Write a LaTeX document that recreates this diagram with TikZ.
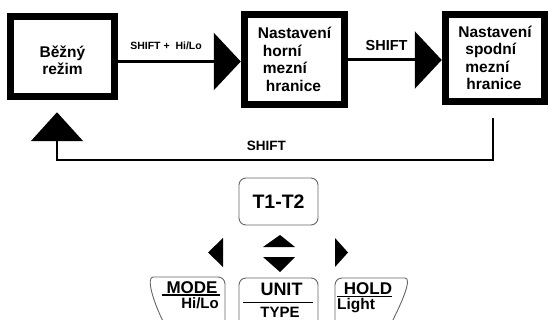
\documentclass[tikz,border=0pt]{standalone}
\usepackage{fontspec}
\setmainfont{Liberation Sans}
\usetikzlibrary{arrows.meta, positioning}
\tikzstyle{mode box}=[draw, line width=7.5pt, inner sep=0pt, font=\bfseries\fontsize{15.5}{17.5}\selectfont]
\tikzstyle{big arrow}=[line width=3pt, -{Triangle[length=27pt,width=57pt]}]
\tikzstyle{back arrow}=[line width=2.5pt, -{Triangle[length=29pt,width=52pt]}]
\tikzstyle{edge label}=[inner sep=0pt, font=\bfseries]
\tikzstyle{key}=[draw=black!60, line width=0.9pt, rounded corners=7pt]
\tikzstyle{key label}=[inner sep=0pt, font=\bfseries]

\begin{document}
\begin{tikzpicture}[x=1pt, y=-1pt]
		\useasboundingbox (0,0) rectangle (548,320);
		% modes
		\node[mode box, minimum width=104pt, minimum height=80pt] (normal) at (62.5,56.5) {\raisebox{-6pt}[\height][\depth]{\begin{tabular}{@{}c@{}}Běžný\\režim\end{tabular}}};
		\node[mode box, minimum width=100pt, minimum height=90pt, align=left] (upper) at (294.5,59.5) {Nastavení\\\hspace{5pt}horní\\\hspace{5pt}mezní\\\hspace{8pt}hranice};
		\node[mode box, minimum width=99pt, minimum height=87pt, align=left] (lower) at (495,58) {Nastavení\\\hspace{7pt}spodní\\\hspace{7pt}mezní\\\hspace{8pt}hranice};
		\coordinate (back) at (57,160);
		\draw[big arrow] ([yshift=-2pt]normal.east |- upper) -- node[edge label, pos=0.39, above=10pt, font=\bfseries\fontsize{10.5}{12}\selectfont] {SHIFT +\ \ Hi/Lo} ([yshift=-2pt]upper.west);
		\draw[big arrow] ([yshift=-2pt]upper.east |- lower) -- node[edge label, pos=0.41, above=8pt, font=\bfseries\fontsize{14.5}{16}\selectfont] {SHIFT} ([yshift=-2pt]lower.west);
		\draw[back arrow, shorten <=13pt, shorten >=12pt] ([xshift=-2pt]lower.south) |- node[edge label, pos=0.76, above=8pt, font=\bfseries\fontsize{13.5}{15}\selectfont] {SHIFT} (back) -- (back |- normal.south);
		% keypad
		\node[key, minimum width=79pt, minimum height=47pt, font=\bfseries\fontsize{19.5}{21}\selectfont] (t12) at (278.5,201.5) {T1-T2};
		\fill (263,247) -- (280,235) -- (295,247) -- cycle;
		\fill (263,257) -- (295,257) -- (280,272) -- cycle;
		\fill (223,238) -- (208,252.5) -- (223,267) -- cycle;
		\fill (335,238) -- (348,252.5) -- (335,267) -- cycle;
		\draw[key] (239,335) -- (239,278) -- (318,278) -- (318,335);
		\draw[key] (225,335) -- (225,277) -- (160,277) .. controls (147,277) and (150,298) .. (170,335);
		\draw[key] (335,335) -- (335,278) -- (398,278) .. controls (412,278) and (404,300) .. (385,335);
		\node[key label, font=\bfseries\fontsize{18}{20}\selectfont] (unit) at (281.5,289) {UNIT};
		\node[key label, font=\bfseries\fontsize{15}{17}\selectfont] (type) at (280,312) {TYPE};
		\draw[line width=1pt] (243,302) -- (313,302);
		\node[key label, font=\bfseries\fontsize{17}{19}\selectfont] (mode) at (192,288) {MODE};
		\node[key label, font=\bfseries\fontsize{15}{17}\selectfont] (hilo) at (200,303.5) {Hi/Lo};
		\draw[line width=1.2pt] (162,295) -- (220,295);
		\node[key label, font=\bfseries\fontsize{17}{19}\selectfont] (hold) at (368,289) {HOLD};
		\node[key label, font=\bfseries\fontsize{15.5}{17}\selectfont] (light) at (356,306) {Light};
		\draw[line width=1.2pt] (337,296.5) -- (392,296.5);
	\end{tikzpicture}
\end{document}
